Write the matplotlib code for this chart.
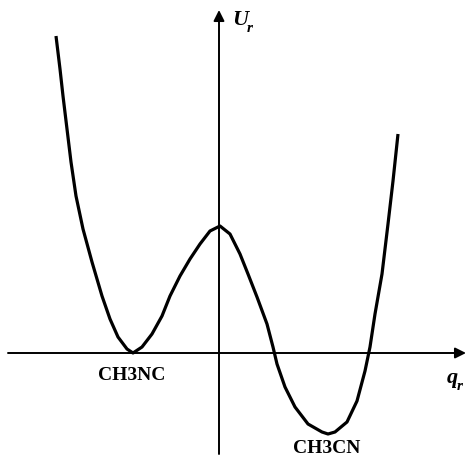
import numpy as np
import matplotlib.pyplot as plt

# curva de energía potencial (coordenada de reacción q_r, energía U_r)
q_r = [-163, -159, -156, -152, -148, -143, -136, -127, -117, -109, -101, -92,
       -86, -77, -67, -57, -49, -39, -29, -19, -9, 1, 11, 21, 29, 38, 48, 54,
       58, 66, 76, 89, 103, 109, 116, 128, 138, 146, 151, 156, 163, 169, 174,
       179]
U_r = [317, 284, 257, 224, 191, 157, 124, 91, 57, 34, 16, 4,
       0, 6, 19, 37, 57, 77, 94, 109, 122, 127, 119, 99, 79, 56, 29, 6,
       -11, -34, -54, -71, -79, -81, -79, -69, -48, -18, 6, 39, 79, 129, 172,
       219]

etiquetas = ['CH3NC', 'CH3CN']
pos_etiquetas = [(-87, -26), (108, -99)]

fig = plt.figure(figsize=(4.66, 4.60), dpi=100)
ax = fig.add_axes([0, 0, 1, 1])
ax.set_xlim(-219, 247)
ax.set_ylim(-106, 354)
ax.axis('off')

flecha = dict(arrowstyle='-|>', lw=1.4, color='black', mutation_scale=16,
              shrinkA=0, shrinkB=0)
ax.annotate('', xy=(247, 0), xytext=(-211, 0), arrowprops=flecha)
ax.annotate('', xy=(0, 343), xytext=(0, -101), arrowprops=flecha)

ax.plot(q_r, U_r, color='black', lw=2.3, solid_joinstyle='round',
        solid_capstyle='butt')

serif = 'Liberation Serif'
for txt, (x, y) in zip(etiquetas, pos_etiquetas):
    ax.text(x, y, txt, ha='center', va='baseline', fontsize=14,
            fontweight='bold', family=serif)

ax.text(13, 329, 'U', fontsize=16, fontweight='bold', style='italic',
        family=serif, va='baseline')
ax.text(28, 322, 'r', fontsize=11, fontweight='bold', style='italic',
        family=serif, va='baseline')
ax.text(228, -29, 'q', fontsize=16, fontweight='bold', style='italic',
        family=serif, va='baseline')
ax.text(238, -36, 'r', fontsize=11, fontweight='bold', style='italic',
        family=serif, va='baseline')

plt.savefig('out.png', dpi=100)
